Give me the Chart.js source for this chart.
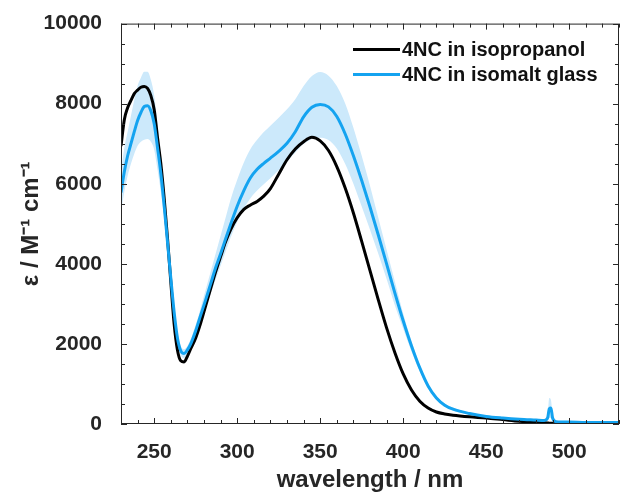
<!DOCTYPE html>
<html>
<head>
<meta charset="utf-8">
<script src="https://cdn.jsdelivr.net/npm/chart.js@4"></script>
<style>
  body { margin: 0; background: #fff; }
</style>
</head>
<body>
<canvas id="spectrumChart" width="621" height="493"></canvas>
<script>
// wavelength grid (nm)
const wavelength = [230, 232, 234, 236, 238, 240, 242, 244, 246, 248, 250, 252, 254, 256, 258, 260, 262, 264, 266, 268,
  270, 272, 275, 278, 281, 284, 287, 290, 293, 296, 300, 304, 308, 312, 316, 320, 325, 330, 335, 340,
  345, 350, 355, 360, 365, 370, 375, 380, 385, 390, 395, 400, 405, 410, 415, 420, 425, 430, 440, 450,
  460, 470, 480, 485, 487, 488, 489, 490, 492, 495, 500, 510, 520, 530];

// 4NC in isopropanol
const isopropanol = [6940, 7600, 7900, 8080, 8250, 8340, 8410, 8430, 8380, 8200, 7850, 7150, 6500, 5650, 4650, 3550, 2500, 1850, 1580, 1550,
  1690, 1880, 2150, 2520, 2950, 3380, 3800, 4180, 4550, 4850, 5150, 5360, 5470, 5560, 5690, 5880, 6240, 6600, 6870, 7050,
  7160, 7070, 6830, 6430, 5900, 5270, 4560, 3830, 3100, 2400, 1780, 1250, 850, 570, 400, 300, 250, 220, 180, 150,
  110, 70, 40, 30, 25, 20, 20, 20, 15, 12, 10, 5, 5, 5];

// 4NC in isomalt glass (mean, upper and lower bound of the band)
const isomalt = [5780, 6300, 6700, 7000, 7300, 7580, 7780, 7930, 7950, 7820, 7500, 6900, 6250, 5450, 4550, 3650, 2800, 2150, 1830, 1760,
  1850, 2000, 2330, 2720, 3100, 3500, 3900, 4250, 4620, 4980, 5440, 5830, 6150, 6360, 6510, 6640, 6810, 7010, 7300, 7670,
  7910, 7980, 7920, 7680, 7250, 6700, 6080, 5420, 4720, 4000, 3270, 2580, 1950, 1400, 950, 650, 470, 370, 260, 190,
  150, 120, 100, 90, 150, 380, 400, 150, 60, 50, 50, 40, 40, 40];

const isomaltUpper = [6300, 6900, 7300, 7700, 8100, 8450, 8650, 8800, 8800, 8600, 8200, 7500, 6700, 5750, 4800, 3850, 2950, 2300, 1950, 1870,
  1950, 2120, 2480, 2900, 3350, 3800, 4250, 4700, 5150, 5600, 6100, 6530, 6870, 7100, 7290, 7450, 7650, 7860, 8110, 8440,
  8690, 8790, 8700, 8440, 8010, 7400, 6700, 5950, 5150, 4350, 3550, 2760, 2070, 1480, 1010, 690, 510, 410, 280, 210,
  170, 140, 120, 110, 250, 650, 600, 250, 80, 70, 65, 55, 55, 55];

const isomaltLower = [5300, 5800, 6200, 6500, 6750, 6950, 7050, 7100, 7120, 7050, 6850, 6350, 5800, 5150, 4300, 3450, 2650, 2000, 1720, 1650,
  1750, 1880, 2200, 2560, 2900, 3250, 3600, 3950, 4300, 4650, 5050, 5380, 5640, 5830, 5990, 6140, 6340, 6550, 6780, 6990,
  7120, 7150, 7090, 6880, 6500, 6000, 5430, 4850, 4250, 3620, 2960, 2380, 1810, 1310, 890, 610, 440, 340, 240, 170,
  130, 100, 80, 70, 80, 150, 150, 80, 40, 35, 35, 30, 30, 30];

const xTicks = [250, 300, 350, 400, 450, 500];
const yTicks = [0, 2000, 4000, 6000, 8000, 10000];

const seriesNames = ['4NC in isopropanol', '4NC in isomalt glass'];
const seriesColors = ['#000000', '#14a3f0'];

function toPoints(values) {
    return wavelength.map((w, i) => ({ x: w, y: values[i] }));
}

// box round the plot with inward ticks, like the original figure
const frameTicks = {
    id: 'frameTicks',
    afterDatasetsDraw(chart) {
        const { ctx, chartArea: a, scales: { x, y } } = chart;
        ctx.save();
        ctx.strokeStyle = '#262626';
        ctx.lineWidth = 1;
        ctx.strokeRect(a.left + 0.5, a.top + 0.5, a.right - a.left - 1, a.bottom - a.top - 1);
        ctx.beginPath();
        for (let v = 230; v <= 530; v += 10) {
            const px = Math.round(x.getPixelForValue(v)) + 0.5;
            const len = xTicks.includes(v) ? 6 : 4;
            ctx.moveTo(px, a.bottom); ctx.lineTo(px, a.bottom - len);
            ctx.moveTo(px, a.top); ctx.lineTo(px, a.top + len);
        }
        for (let v = 0; v <= 10000; v += 500) {
            const py = Math.round(y.getPixelForValue(v)) + 0.5;
            const len = yTicks.includes(v) ? 6 : 4;
            ctx.moveTo(a.left, py); ctx.lineTo(a.left + len, py);
            ctx.moveTo(a.right, py); ctx.lineTo(a.right - len, py);
        }
        ctx.stroke();

        // legend inside the plot, top right
        ctx.font = 'bold 20px "Liberation Sans", Arial, sans-serif';
        ctx.textBaseline = 'middle';
        ctx.fillStyle = '#111';
        seriesNames.forEach((name, i) => {
            const ly = a.top + 26 + i * 25;
            ctx.strokeStyle = seriesColors[i];
            ctx.lineWidth = 3;
            ctx.beginPath();
            ctx.moveTo(a.right - 266, ly);
            ctx.lineTo(a.right - 219, ly);
            ctx.stroke();
            ctx.fillText(name, a.right - 217, ly + 1);
        });
        ctx.restore();
    }
};

const tickFont = { family: '"Liberation Sans", Arial, sans-serif', size: 21, weight: 'bold' };
const titleFont = { family: '"Liberation Sans", Arial, sans-serif', size: 24, weight: 'bold' };

const ctx = document.getElementById('spectrumChart').getContext('2d');
const spectrumChart = new Chart(ctx, {
    type: 'line',
    data: {
        datasets: [
            {
                label: seriesNames[1],
                data: toPoints(isomalt),
                borderColor: seriesColors[1],
                borderWidth: 3,
                fill: false,
            },
            {
                label: seriesNames[0],
                data: toPoints(isopropanol),
                borderColor: seriesColors[0],
                borderWidth: 3,
                fill: false,
            },
            {
                label: 'upper',
                data: toPoints(isomaltUpper),
                borderWidth: 0,
                borderColor: 'rgba(0,0,0,0)',
                backgroundColor: '#cce9fb',
                fill: '+1',
            },
            {
                label: 'lower',
                data: toPoints(isomaltLower),
                borderWidth: 0,
                borderColor: 'rgba(0,0,0,0)',
                fill: false,
            }
        ]
    },
    options: {
        responsive: false,
        animation: false,
        elements: {
            point: { radius: 0 },
            line: { cubicInterpolationMode: 'monotone' }
        },
        layout: { padding: { top: 22, right: 2, left: 0, bottom: 0 } },
        plugins: {
            legend: { display: false },
            tooltip: { enabled: false }
        },
        scales: {
            x: {
                type: 'linear',
                min: 230,
                max: 530,
                afterBuildTicks: s => { s.ticks = xTicks.map(v => ({ value: v })); },
                afterFit: s => { s.height = 69; },
                grid: { display: false },
                border: { display: false },
                ticks: { font: tickFont, color: '#262626', padding: 8, maxRotation: 0, callback: v => String(v) },
                title: { display: true, text: 'wavelength / nm', font: titleFont, color: '#262626', padding: { top: 0, bottom: -2 } }
            },
            y: {
                min: 0,
                max: 10000,
                afterBuildTicks: s => { s.ticks = yTicks.map(v => ({ value: v })); },
                afterFit: s => { s.width = 121; },
                grid: { display: false },
                border: { display: false },
                ticks: { font: tickFont, color: '#262626', padding: 11, callback: v => String(v) },
                title: { display: true, text: 'ε / M⁻¹ cm⁻¹', font: titleFont, color: '#262626', padding: { top: 17, bottom: 0 } }
            }
        }
    },
    plugins: [frameTicks]
});
</script>
</body>
</html>
